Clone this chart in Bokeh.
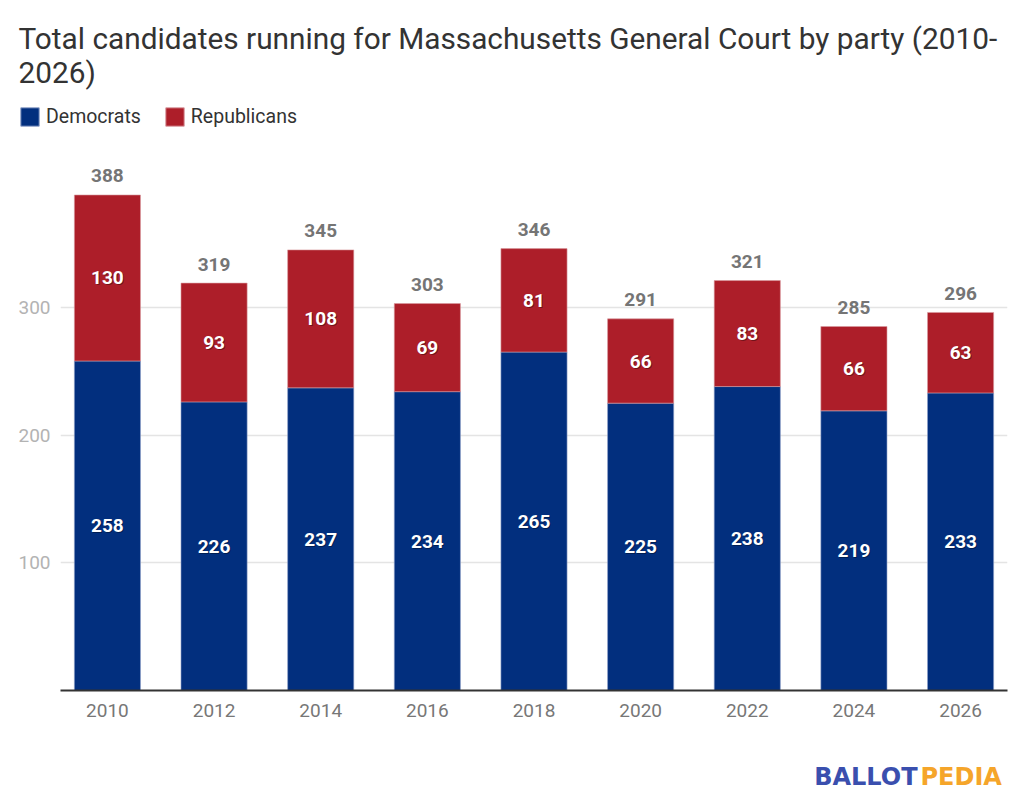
#!/usr/bin/env python3

from bokeh.core.properties import value
from bokeh.embed import file_html
from bokeh.layouts import column
from bokeh.models import ColumnDataSource, FixedTicker, Label, Legend, LegendItem
from bokeh.plotting import figure
from bokeh.resources import INLINE

years = ["2010", "2012", "2014", "2016", "2018", "2020", "2022", "2024", "2026"]
democrats = [258, 226, 237, 234, 265, 225, 238, 219, 233]
republicans = [130, 93, 108, 69, 81, 66, 83, 66, 63]
y_ticks = [100, 200, 300]

title_lines = [
    "Total candidates running for Massachusetts General Court by party (2010-",
    "2026)",
]

DEM_COLOR = "#022f7e"
REP_COLOR = "#ad1e29"
DEM_EDGE = "#8fa0c8"
REP_EDGE = "#d99aa0"
FONT = "Roboto"
WIDTH = 1016

xs = list(range(len(years)))
totals = [d + r for d, r in zip(democrats, republicans)]
source = ColumnDataSource(
    data=dict(
        x=xs,
        dem=democrats,
        total=totals,
        dem_mid=[d / 2 for d in democrats],
        rep_mid=[d + r / 2 for d, r in zip(democrats, republicans)],
        dem_txt=[str(v) for v in democrats],
        rep_txt=[str(v) for v in republicans],
        total_txt=[str(v) for v in totals],
    )
)


def blank_strip(height):
    # a figure whose frame fills the canvas, for freely placed texts
    s = figure(
        width=WIDTH, height=height, x_range=(0, WIDTH), y_range=(height, 0),
        output_backend="svg", toolbar_location=None, min_border=0,
        outline_line_color=None,
    )
    s.axis.visible = False
    s.grid.visible = False
    if "frame_align" in s.properties():
        s.frame_align = False
    return s


# ---- header: title and legend
header = blank_strip(148)
for line, base in zip(title_lines, (37.5, 71.5)):
    header.add_layout(
        Label(
            x=18, y=base, text=line, text_font=FONT, text_font_size="29.8px",
            text_color="#333333", text_baseline="alphabetic",
        )
    )

# hidden copies of the bars, only used to draw the legend keys
dem_key = header.vbar(
    x="x", top="dem", width=0.62, source=source, visible=False,
    fill_color=DEM_COLOR, line_color=DEM_EDGE,
)
rep_key = header.vbar(
    x="x", top="total", bottom="dem", width=0.62, source=source, visible=False,
    fill_color=REP_COLOR, line_color=REP_EDGE,
)
legend = Legend(
    items=[
        LegendItem(label="Democrats", renderers=[dem_key]),
        LegendItem(label="Republicans", renderers=[rep_key]),
    ],
    location=(18, 20),
    orientation="horizontal",
    glyph_width=23,
    glyph_height=23,
    label_standoff=5,
    spacing=22,
    padding=0,
    margin=0,
    border_line_color=None,
    background_fill_alpha=0,
    label_text_font=FONT,
    label_text_font_size="19.5px",
    label_text_color="#333333",
)
header.add_layout(legend)

# ---- main chart
p = figure(
    width=WIDTH,
    height=592,
    x_range=(-0.44, 8.44),
    y_range=(0, 424.4),
    output_backend="svg",
    toolbar_location=None,
    min_border_left=60,
    min_border_right=9,
    min_border_top=0,
    min_border_bottom=50,
    outline_line_color=None,
)
p.title.visible = False
if "frame_align" in p.properties():
    p.frame_align = False

p.vbar(
    x="x", top="dem", bottom=0, width=0.62, source=source,
    fill_color=DEM_COLOR, line_color=DEM_EDGE, line_width=0.6,
)
p.vbar(
    x="x", top="total", bottom="dem", width=0.62, source=source,
    fill_color=REP_COLOR, line_color=REP_EDGE, line_width=0.6,
)

# bar labels, with a faint shadow behind
for col, ycol in (("dem_txt", "dem_mid"), ("rep_txt", "rep_mid")):
    p.text(
        x="x", y=ycol, text=col, source=source, x_offset=1, y_offset=1,
        text_font=value(FONT), text_font_style="bold", text_font_size="19px",
        text_color="black", text_alpha=0.35, text_align="center",
        text_baseline="middle",
    )
    p.text(
        x="x", y=ycol, text=col, source=source,
        text_font=value(FONT), text_font_style="bold", text_font_size="19px",
        text_color="white", text_align="center", text_baseline="middle",
    )

p.text(
    x="x", y="total", text="total_txt", source=source, y_offset=-19,
    text_font=value(FONT), text_font_style="bold", text_font_size="19px",
    text_color="#757575", text_align="center", text_baseline="middle",
)

p.xaxis.ticker = FixedTicker(ticks=xs)
p.xaxis.major_label_overrides = {i: y for i, y in enumerate(years)}
p.xaxis.axis_line_color = "#333333"
p.xaxis.axis_line_width = 2
p.xaxis.major_tick_line_color = None
p.xaxis.minor_tick_line_color = None
p.xaxis.major_tick_out = 0
p.xaxis.major_label_standoff = 13
p.xaxis.major_label_text_font = FONT
p.xaxis.major_label_text_font_size = "19px"
p.xaxis.major_label_text_color = "#777777"

p.yaxis.ticker = FixedTicker(ticks=y_ticks)
p.yaxis.axis_line_color = None
p.yaxis.major_tick_line_color = None
p.yaxis.minor_tick_line_color = None
p.yaxis.major_tick_out = 0
p.yaxis.major_label_standoff = 10
p.yaxis.major_label_text_font = FONT
p.yaxis.major_label_text_font_size = "19px"
p.yaxis.major_label_text_color = "#b3b3b3"

p.xgrid.grid_line_color = None
p.ygrid.ticker = FixedTicker(ticks=y_ticks)
p.ygrid.grid_line_color = "#e4e4e4"
p.ygrid.grid_line_width = 1.5

# ---- logo strip
logo = blank_strip(61)
logo.add_layout(
    Label(
        x=917, y=36, text="BALLOT", text_font="DejaVu Sans",
        text_font_style="bold", text_font_size="24px", text_color="#3a4fae",
        text_align="right", text_baseline="middle",
    )
)
logo.add_layout(
    Label(
        x=920, y=36, text="PEDIA", text_font="DejaVu Sans",
        text_font_style="bold", text_font_size="24px", text_color="#f5a52a",
        text_align="left", text_baseline="middle",
    )
)

layout = column(header, p, logo, spacing=0)
open("out.html", "w").write(file_html(layout, INLINE))
